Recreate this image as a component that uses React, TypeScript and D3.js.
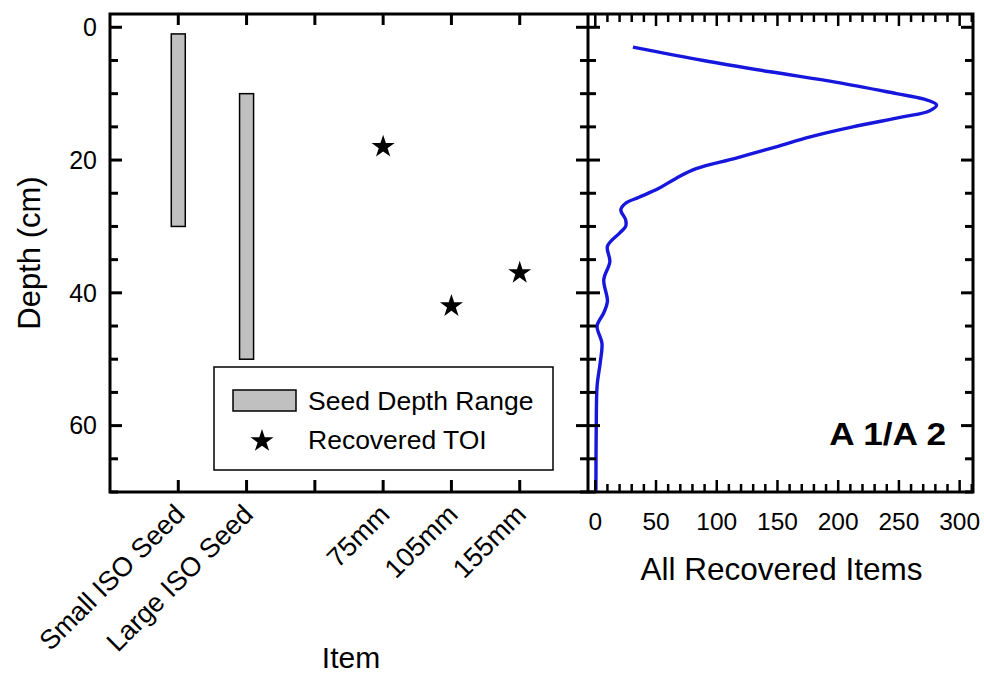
import React, { useEffect } from "react";
import * as d3 from "d3";

// ---------- data ----------
const categories = ["Small ISO Seed", "Large ISO Seed", "", "75mm", "105mm", "155mm"];
const seedItems = ["Small ISO Seed", "Large ISO Seed"];
const seedTop = [1, 10];
const seedBottom = [30, 50];
const toiItems = ["75mm", "105mm", "155mm"];
const toiDepth = [18, 42, 37];
const recDepth = [3, 5, 6.7, 8.3, 10, 10.8, 11.7, 12.6, 13.5, 15, 16.5, 18, 19.7, 21.3, 22.8, 24.3, 25.6, 26.5, 27.5, 29, 30, 31, 33, 35.3, 38, 41.3, 43, 45, 47.6, 50.6, 54, 60, 65, 70];
const recCount = [31, 89, 144, 199, 248, 270, 281, 275, 253, 212, 177, 149, 116, 83, 66, 52, 36, 25, 21, 25, 25, 20, 10, 12, 7, 10, 7, 1.5, 5.5, 4, 1.5, 0.8, 0.6, 0.5];
const depthTicks = [0, 20, 40, 60];
const countTicks = [0, 50, 100, 150, 200, 250, 300];
const panelLabel = "A 1/A 2";

const FONT = "'Liberation Sans', Arial, Helvetica, sans-serif";

export default function App() {
  useEffect(() => {
    document.body.style.margin = "0";
  }, []);

  const L = 110, M = 588, R = 973, T = 14, B = 492;
  const y = d3.scaleLinear().domain([-2, 70]).range([T, B]);
  const xc = d3.scaleLinear().domain([0, 7]).range([L, M]);
  const xr = d3.scaleLinear().domain([-6, 311]).range([M, R]);
  const catX = (c: string) => xc(categories.indexOf(c) + 1);

  const minorDepth = d3.range(0, 71, 5);
  const minorCount = d3.range(0, 311, 10);

  const line = d3
    .line<number>()
    .x((_, i) => xr(recCount[i]))
    .y((d) => y(d))
    .curve(d3.curveCatmullRom.alpha(0.5));
  const pathD = line(recDepth) || "";

  const star = d3.symbol().type(d3.symbolStar).size(165)() || "";

  const major = 12, minor = 8;

  return (
    <svg width={984} height={673} style={{ position: "absolute", left: 0, top: 0, background: "#fff" }} fontFamily={FONT}>
      <defs>
        <clipPath id="rclip">
          <rect x={M} y={T} width={R - M} height={B - T} />
        </clipPath>
      </defs>
      {/* seed bars */}
      {seedItems.map((s, i) => (
        <rect key={s} x={catX(s) - 7} y={y(seedTop[i])} width={14} height={y(seedBottom[i]) - y(seedTop[i])} fill="#c0c0c0" stroke="#000" strokeWidth={1.5} />
      ))}
      {/* stars */}
      {toiItems.map((s, i) => (
        <path key={s} d={star} transform={`translate(${catX(s)},${y(toiDepth[i])})`} fill="#000" />
      ))}
      {/* curve */}
      <path d={pathD} fill="none" stroke="#1616dc" strokeWidth={3.4} clipPath="url(#rclip)" strokeLinejoin="round" />

      {/* depth ticks */}
      {minorDepth.map((d) => {
        const len = depthTicks.includes(d) ? major : minor;
        return (
          <g key={"ld" + d}>
            <line x1={L} x2={L + len} y1={y(d)} y2={y(d)} stroke="#000" strokeWidth={3} />
            <line x1={M - len} x2={M + len} y1={y(d)} y2={y(d)} stroke="#000" strokeWidth={3} />
            <line x1={R - len} x2={R} y1={y(d)} y2={y(d)} stroke="#000" strokeWidth={3} />
          </g>
        );
      })}
      {/* category ticks */}
      {categories.map((c, i) => (
        <g key={"ct" + i}>
          <line x1={xc(i + 1)} x2={xc(i + 1)} y1={B} y2={B - major} stroke="#000" strokeWidth={3} />
          <line x1={xc(i + 1)} x2={xc(i + 1)} y1={T} y2={T + major - 1} stroke="#000" strokeWidth={3} />
        </g>
      ))}
      {/* count ticks */}
      {minorCount.map((v) => {
        const len = v % 50 === 0 ? major : minor;
        return (
          <g key={"rc" + v}>
            <line x1={xr(v)} x2={xr(v)} y1={B} y2={B - len} stroke="#000" strokeWidth={2.5} />
            <line x1={xr(v)} x2={xr(v)} y1={T} y2={T + len} stroke="#000" strokeWidth={2.5} />
          </g>
        );
      })}
      {/* frames */}
      <rect x={L} y={T} width={R - L} height={B - T} fill="none" stroke="#000" strokeWidth={3} />
      <line x1={M} x2={M} y1={T} y2={B} stroke="#000" strokeWidth={3} />

      {/* y tick labels */}
      {depthTicks.map((d) => (
        <text key={"yl" + d} x={97} y={y(d)} dy="0.35em" textAnchor="end" fontSize={25}>{d}</text>
      ))}
      {/* count tick labels */}
      {countTicks.map((v) => (
        <text key={"xl" + v} x={xr(v)} y={530} textAnchor="middle" fontSize={24.5}>{v}</text>
      ))}
      {/* category labels */}
      {categories.map((c, i) =>
        c ? (
          <text key={"cl" + i} transform={`translate(${xc(i + 1) + 8},${516}) rotate(-45)`} textAnchor="end" fontSize={27}>{c}</text>
        ) : null
      )}
      {/* axis titles */}
      <text x={(L + M) / 2 + 2} y={668} textAnchor="middle" fontSize={30}>Item</text>
      <text x={(M + R) / 2 + 1} y={580} textAnchor="middle" fontSize={31.5}>All Recovered Items</text>
      <text transform={`translate(40,${(T + B) / 2}) rotate(-90)`} textAnchor="middle" fontSize={31}>Depth (cm)</text>
      {/* panel label */}
      <text transform="translate(946,445) scale(1.1,1)" textAnchor="end" fontSize={32} fontWeight="bold">{panelLabel}</text>

      {/* legend */}
      <rect x={214} y={367} width={339} height={103} fill="#fff" stroke="#000" strokeWidth={1.5} />
      <rect x={233} y={390} width={63} height={21} fill="#c0c0c0" stroke="#000" strokeWidth={1.5} />
      <text x={308} y={410} fontSize={26.5}>Seed Depth Range</text>
      <path d={star} transform="translate(262,441)" fill="#000" />
      <text x={308} y={449} fontSize={26.5}>Recovered TOI</text>
    </svg>
  );
}
